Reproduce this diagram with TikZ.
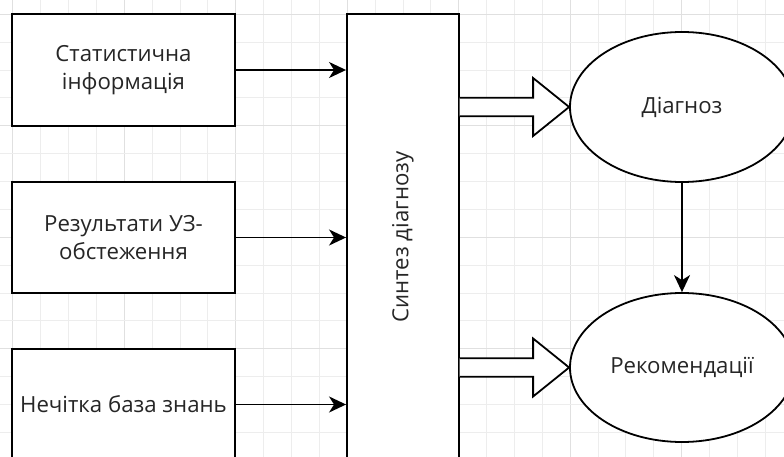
\documentclass[tikz,border=0pt]{standalone}
\usepackage{fontspec}
\setmainfont{Open Sans}
\usetikzlibrary{arrows.meta,shapes.geometric,calc}
\tikzset{
  minorgrid/.style={draw=black!7, line width=0.9pt},
  majorgrid/.style={draw=black!12, line width=0.9pt},
  box/.style={draw=black, line width=1.8pt, fill=white, rectangle, inner sep=2pt, align=center, text=black!85, font=\fontsize{22.2}{28.5}\selectfont},
  oval/.style={draw=black, line width=1.8pt, fill=white, ellipse, inner sep=0pt, text=black!85, font=\fontsize{22.2}{28.5}\selectfont},
  arr/.style={draw=black, line width=1.8pt, -{Stealth[length=17pt, width=16pt, inset=5pt]}},
  blockarr/.style={draw=black, line width=1.8pt, fill=white, line join=miter}
}
\begin{document}
\begin{tikzpicture}[x=1pt, y=-1pt]
\clip (0,0) rectangle (784,457);
\fill[white] (0,0) rectangle (784,457);
% grid
\foreach \i in {-1,...,28} {
  \pgfmathtruncatemacro{\m}{mod(\i+4,4)}
  \ifnum\m=0
    \draw[majorgrid] ({12.8+27.87*\i},0) -- ({12.8+27.87*\i},457);
  \else
    \draw[minorgrid] ({12.8+27.87*\i},0) -- ({12.8+27.87*\i},457);
  \fi
}
\foreach \i in {-1,...,17} {
  \pgfmathtruncatemacro{\m}{mod(\i+4,4)}
  \ifnum\m=0
    \draw[majorgrid] (0,{14.3+27.87*\i}) -- (784,{14.3+27.87*\i});
  \else
    \draw[minorgrid] (0,{14.3+27.87*\i}) -- (784,{14.3+27.87*\i});
  \fi
}
% left boxes
\node[box, minimum width=223pt, minimum height=112pt] (s1) at (123.5,70) {Статистична\\інформація};
\node[box, minimum width=223pt, minimum height=111pt] (s2) at (123.5,237.5) {Результати УЗ-\\обстеження};
\node[box, minimum width=223pt, minimum height=111pt] (s3) at (123.5,404.5) {Нечітка база знань};
% central box
\node[box, rotate=90, minimum width=446pt, minimum height=111.7pt] (synt) at (402.8,237) {Синтез діагнозу};
% ellipses
\node[oval, minimum width=224pt, minimum height=150pt] (d) at (682,107) {Діагноз};
\node[oval, minimum width=224pt, minimum height=149pt] (r) at (682,367.5) {Рекомендації};
% arrows
\draw[arr] (s1.east) -- (s1.east -| synt.north);
\draw[arr] (s2.east) -- (s2.east -| synt.north);
\draw[arr] (s3.east) -- (s3.east -| synt.north);
\draw[arr] (d.south) -- (r.north);
% block arrows
\draw[blockarr] ($(synt.south |- d.west)+(0,-9.3)$) -- ($(d.west)+(-36,-9.3)$) -- ($(d.west)+(-36,-29)$) -- (d.west) -- ($(d.west)+(-36,29)$) -- ($(d.west)+(-36,9.3)$) -- ($(synt.south |- d.west)+(0,9.3)$);
\draw[blockarr] ($(synt.south |- r.west)+(0,-9.3)$) -- ($(r.west)+(-36,-9.3)$) -- ($(r.west)+(-36,-29)$) -- (r.west) -- ($(r.west)+(-36,29)$) -- ($(r.west)+(-36,9.3)$) -- ($(synt.south |- r.west)+(0,9.3)$);
\end{tikzpicture}
\end{document}
